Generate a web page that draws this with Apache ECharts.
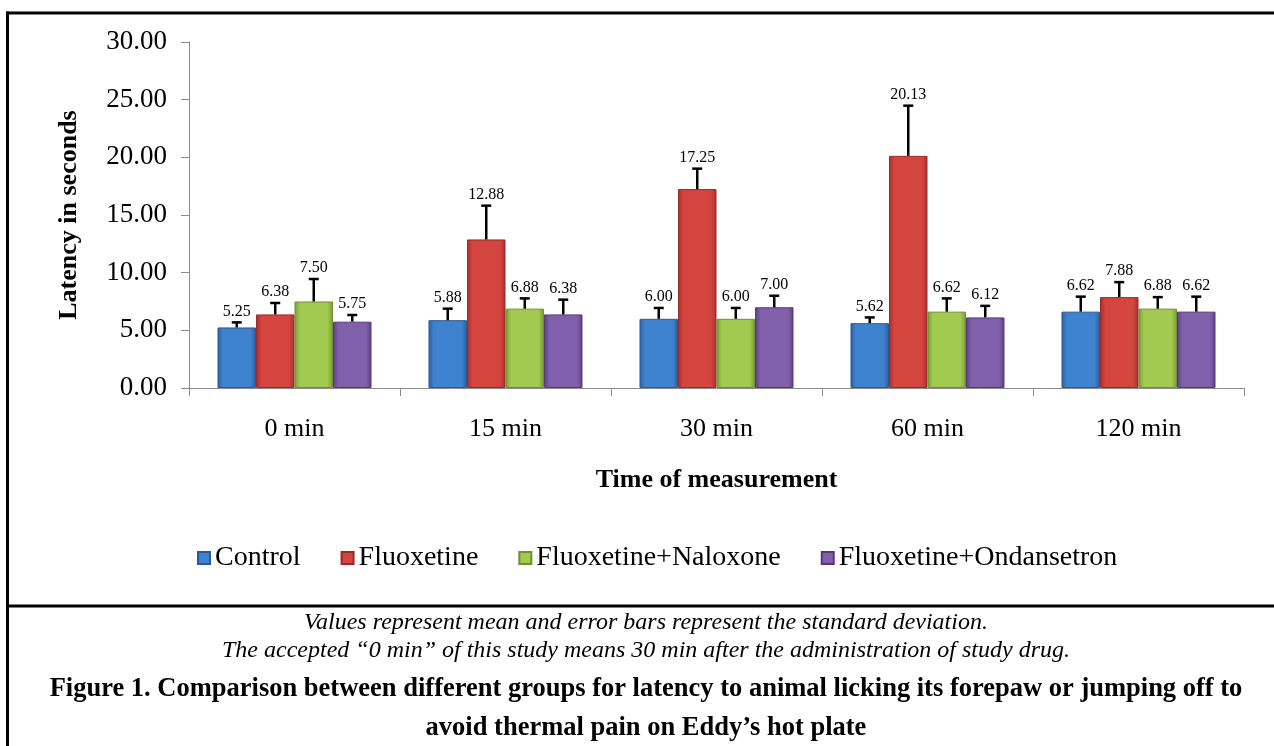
<!DOCTYPE html>
<html>
<head>
<meta charset="utf-8">
<script src="https://cdn.jsdelivr.net/npm/echarts@6/dist/echarts.min.js"></script>
<style>
html,body{margin:0;padding:0;background:#fff;}
#chart{width:1274px;height:746px;}
</style>
</head>
<body>
<div id="chart"></div>
<script>
// ---- data ----
const categories = ['0 min', '15 min', '30 min', '60 min', '120 min'];
const seriesNames = ['Control', 'Fluoxetine', 'Fluoxetine+Naloxone', 'Fluoxetine+Ondansetron'];
const controlMean = [5.25, 5.88, 6.00, 5.62, 6.62];
const fluoxetineMean = [6.38, 12.88, 17.25, 20.13, 7.88];
const naloxoneMean = [7.50, 6.88, 6.00, 6.62, 6.88];
const ondansetronMean = [5.75, 6.38, 7.00, 6.12, 6.62];
const controlSD = [0.44, 1.00, 0.94, 0.50, 1.30];
const fluoxetineSD = [0.99, 2.93, 1.77, 4.35, 1.30];
const naloxoneSD = [1.95, 0.89, 0.94, 1.15, 1.00];
const ondansetronSD = [0.58, 1.28, 1.00, 1.00, 1.30];
const yMin = 0, yMax = 30, yInterval = 5;
const xAxisTitle = 'Time of measurement';
const yAxisTitle = 'Latency in seconds';
const captionNote1 = 'Values represent mean and error bars represent the standard deviation.';
const captionNote2 = 'The accepted \u201c0 min\u201d of this study means 30 min after the administration of study drug.';
const captionTitle1 = 'Figure 1. Comparison between different groups for latency to animal licking its forepaw or jumping off to';
const captionTitle2 = 'avoid thermal pain on Eddy\u2019s hot plate';

const means = [controlMean, fluoxetineMean, naloxoneMean, ondansetronMean];
const sds = [controlSD, fluoxetineSD, naloxoneSD, ondansetronSD];

// ---- style ----
const FONT = '"Liberation Serif", "Times New Roman", serif';
const palette = [
  {edge: '#2c5f9e', mid: '#3f82cf', border: '#2a5a94'},
  {edge: '#a52f2c', mid: '#d4453f', border: '#9a2b28'},
  {edge: '#789a34', mid: '#a2c950', border: '#6f8f30'},
  {edge: '#5c3f80', mid: '#8160ab', border: '#553a78'}
];
const CAT_GAP = 0.27;
const N = seriesNames.length;

function barFill(p) {
  return new echarts.graphic.LinearGradient(0, 0, 1, 0, [
    {offset: 0, color: p.edge},
    {offset: 0.14, color: p.mid},
    {offset: 0.86, color: p.mid},
    {offset: 1, color: p.edge}
  ]);
}

const series = [];
means.forEach((arr, i) => {
  series.push({
    name: seriesNames[i],
    type: 'bar',
    data: arr,
    barGap: '0%',
    barCategoryGap: (CAT_GAP * 100) + '%',
    itemStyle: {color: barFill(palette[i]), borderColor: palette[i].border, borderWidth: 1},
    emphasis: {disabled: true}
  });
});
means.forEach((arr, i) => {
  series.push({
    name: seriesNames[i],
    type: 'custom',
    z: 5,
    data: arr.map((m, k) => [k, m, sds[i][k]]),
    renderItem: function (params, api) {
      const k = api.value(0), m = api.value(1), sd = api.value(2);
      const band = api.size([1, 0])[0];
      const groupW = band * (1 - CAT_GAP);
      const barW = groupW / N;
      const base = api.coord([k, m]);
      const top = api.coord([k, m + sd]);
      const x = base[0] - groupW / 2 + (i + 0.5) * barW;
      const capHalf = 5;
      return {
        type: 'group',
        children: [
          {type: 'line', shape: {x1: x, y1: base[1], x2: x, y2: top[1]}, style: {stroke: '#000', lineWidth: 2.5}},
          {type: 'line', shape: {x1: x - capHalf, y1: top[1], x2: x + capHalf, y2: top[1]}, style: {stroke: '#000', lineWidth: 2.5}},
          {type: 'text', x: x, y: top[1] - 11, style: {text: m.toFixed(2), fill: '#000', font: '16px ' + FONT, align: 'center', verticalAlign: 'middle'}}
        ]
      };
    }
  });
});

const chart = echarts.init(document.getElementById('chart'));
chart.setOption({
  animation: false,
  backgroundColor: '#fff',
  textStyle: {fontFamily: FONT, color: '#000'},
  grid: {left: 189, right: 30, top: 42, bottom: 358, containLabel: false},
  legend: {
    data: seriesNames,
    left: 192,
    top: 539,
    icon: 'rect',
    itemWidth: 12,
    itemHeight: 12,
    itemGap: 40,
    textStyle: {fontFamily: FONT, fontSize: 28, color: '#000'},
    selectedMode: false
  },
  xAxis: {
    type: 'category',
    data: categories,
    axisLine: {lineStyle: {color: '#8c8c8c', width: 1}},
    axisTick: {show: true, length: 8, lineStyle: {color: '#8c8c8c'}},
    axisLabel: {fontFamily: FONT, fontSize: 26, color: '#000', margin: 28},
    name: xAxisTitle,
    nameLocation: 'middle',
    nameGap: 79,
    nameTextStyle: {fontFamily: FONT, fontSize: 26, fontWeight: 'bold', color: '#000'}
  },
  yAxis: {
    type: 'value',
    min: yMin,
    max: yMax,
    interval: yInterval,
    splitLine: {show: false},
    axisLine: {show: true, lineStyle: {color: '#8c8c8c', width: 1}},
    axisTick: {show: true, length: 8, lineStyle: {color: '#8c8c8c'}},
    axisLabel: {fontFamily: FONT, fontSize: 27, color: '#000', margin: 22, formatter: v => v.toFixed(2)},
    name: yAxisTitle,
    nameLocation: 'middle',
    nameGap: 107,
    nameTextStyle: {fontFamily: FONT, fontSize: 26, fontWeight: 'bold', color: '#000'}
  },
  series: series,
  graphic: [
    {type: 'line', shape: {x1: 6, y1: 13, x2: 1274, y2: 13}, style: {stroke: '#000', lineWidth: 3}, silent: true},
    {type: 'line', shape: {x1: 7.5, y1: 11.5, x2: 7.5, y2: 746}, style: {stroke: '#000', lineWidth: 3}, silent: true},
    {type: 'line', shape: {x1: 6, y1: 606, x2: 1274, y2: 606}, style: {stroke: '#000', lineWidth: 3}, silent: true},
    {type: 'text', x: 646, y: 623, style: {text: captionNote1, font: 'italic 24px ' + FONT, fill: '#000', align: 'center', verticalAlign: 'middle'}},
    {type: 'text', x: 646, y: 651, style: {text: captionNote2, font: 'italic 24px ' + FONT, fill: '#000', align: 'center', verticalAlign: 'middle'}},
    {type: 'text', x: 646, y: 689, style: {text: captionTitle1, font: 'bold 26.5px ' + FONT, fill: '#000', align: 'center', verticalAlign: 'middle'}},
    {type: 'text', x: 646, y: 728, style: {text: captionTitle2, font: 'bold 26.5px ' + FONT, fill: '#000', align: 'center', verticalAlign: 'middle'}}
  ]
});
</script>
</body>
</html>
